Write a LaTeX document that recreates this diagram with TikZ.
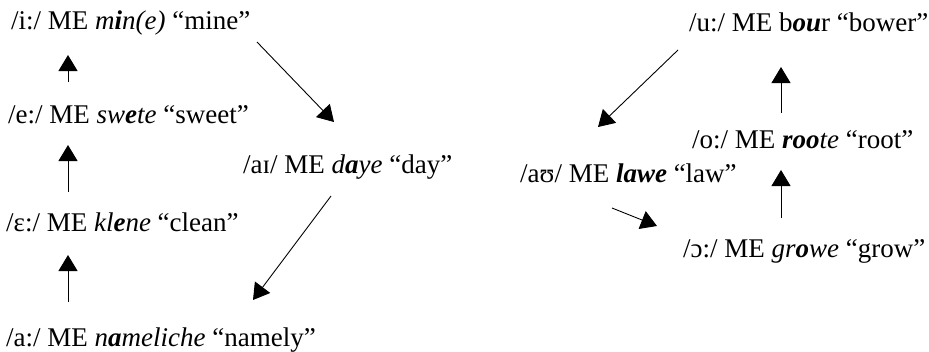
\documentclass[tikz,border=0pt]{standalone}
\usepackage{fontspec}
\setmainfont{Liberation Serif}
\usetikzlibrary{arrows.meta}
\tikzset{
  lbl/.style={anchor=base west, inner sep=0pt, font=\fontsize{27}{32}\selectfont},
  vowelshift/.style={line width=0.9pt, -{Triangle[width=19pt,length=16pt]}}
}
\newcommand{\bi}[1]{\textbf{\textit{#1}}}
\begin{document}
\begin{tikzpicture}[x=1pt,y=-1pt]
\useasboundingbox (0,0) rectangle (929,351);
% left chain
\node[lbl] (ii) at (11,29) {/i:/ ME \textit{m\bi{i}n(e)} “mine”};
\node[lbl] (ee) at (8,123) {/e:/ ME \textit{sw\bi{e}te} “sweet”};
\node[lbl] (eh) at (6,231) {/ɛ:/ ME \textit{kl\bi{e}ne} “clean”};
\node[lbl] (aa) at (6,346) {/a:/ ME \textit{n\bi{a}meliche} “namely”};
\node[lbl] (ai) at (243,173) {/aɪ/ ME \textit{d\bi{a}ye} “day”};
% right chain
\node[lbl] (uu) at (689,31) {/u:/ ME b\bi{ou}r “bower”};
\node[lbl] (oo) at (692,148) {/o:/ ME \textit{\bi{roo}te} “root”};
\node[lbl] (au) at (520,182) {/aʊ/ ME \bi{lawe} “law”};
\node[lbl] (oh) at (683,257) {/ɔ:/ ME \textit{gr\bi{o}we} “grow”};
% arrow ends
\coordinate (a1s) at (68,82);   \coordinate (a1e) at (68,55);
\coordinate (a2s) at (68,192);  \coordinate (a2e) at (68,145);
\coordinate (a3s) at (68,302);  \coordinate (a3e) at (68,255);
\coordinate (a4s) at (257,42);  \coordinate (a4e) at (334,122);
\coordinate (a5s) at (331,196); \coordinate (a5e) at (253,300);
\coordinate (a6s) at (678,50);  \coordinate (a6e) at (598,127);
\coordinate (a7s) at (781,113); \coordinate (a7e) at (781,67);
\coordinate (a8s) at (781,218); \coordinate (a8e) at (781,170);
\coordinate (a9s) at (612,208); \coordinate (a9e) at (657,226);
\draw[vowelshift] (a1s) -- (a1e);
\draw[vowelshift] (a2s) -- (a2e);
\draw[vowelshift] (a3s) -- (a3e);
\draw[vowelshift] (a4s) -- (a4e);
\draw[vowelshift] (a5s) -- (a5e);
\draw[vowelshift] (a6s) -- (a6e);
\draw[vowelshift] (a7s) -- (a7e);
\draw[vowelshift] (a8s) -- (a8e);
\draw[vowelshift] (a9s) -- (a9e);
\end{tikzpicture}
\end{document}
